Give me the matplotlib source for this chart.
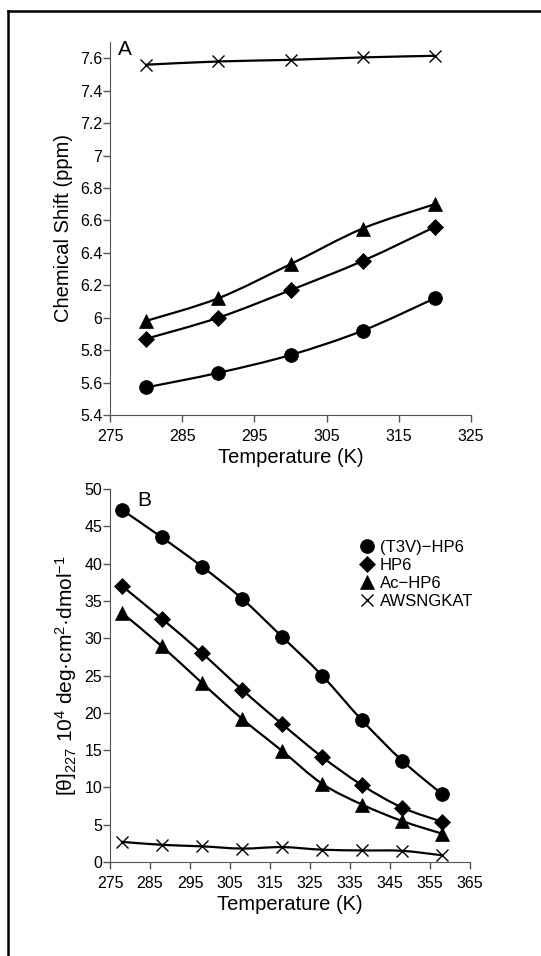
import matplotlib
matplotlib.use('Agg')
import matplotlib.pyplot as plt
from matplotlib.path import Path
from matplotlib.patches import PathPatch
from matplotlib.lines import Line2D
from matplotlib.ticker import FuncFormatter
import numpy as np

plt.rcParams['font.family'] = ['Liberation Sans', 'DejaVu Sans']
plt.rcParams['mathtext.fontset'] = 'custom'
plt.rcParams['mathtext.rm'] = 'Liberation Sans'
plt.rcParams['mathtext.it'] = 'Liberation Sans'

# panel A: chemical shift vs temperature
temp_a = [280, 290, 300, 310, 320]
shift_t3v = [5.57, 5.66, 5.77, 5.92, 6.12]
shift_hp6 = [5.87, 6.00, 6.17, 6.35, 6.56]
shift_ac = [5.98, 6.12, 6.33, 6.55, 6.70]
shift_aws = [7.56, 7.58, 7.59, 7.605, 7.615]

# panel B: molar ellipticity vs temperature
temp_b = [278, 288, 298, 308, 318, 328, 338, 348, 358]
theta_t3v = [47.2, 43.5, 39.6, 35.3, 30.2, 25.0, 19.0, 13.6, 9.1]
theta_hp6 = [37.0, 32.6, 28.0, 23.1, 18.5, 14.1, 10.3, 7.3, 5.4]
theta_ac = [33.4, 28.9, 24.0, 19.2, 14.9, 10.5, 7.7, 5.5, 3.8]
theta_aws = [2.7, 2.3, 2.1, 1.8, 2.0, 1.65, 1.55, 1.5, 0.9]

labels = ['(T3V)\u2212HP6', 'HP6', 'Ac\u2212HP6', 'AWSNGKAT']
markers = ['o', 'D', '^', 'x']
msizes = [10, 8.5, 9.5, 8]


def smooth_line(ax, x, y):
    # Excel-like smoothed line: cubic bezier through the points
    x = np.asarray(x, float)
    y = np.asarray(y, float)
    n = len(x)
    verts = [(x[0], y[0])]
    codes = [Path.MOVETO]
    for i in range(n - 1):
        p0 = np.array([x[max(i - 1, 0)], y[max(i - 1, 0)]])
        p1 = np.array([x[i], y[i]])
        p2 = np.array([x[i + 1], y[i + 1]])
        p3 = np.array([x[min(i + 2, n - 1)], y[min(i + 2, n - 1)]])
        c1 = p1 + (p2 - p0) / 6.0
        c2 = p2 - (p3 - p1) / 6.0
        verts += [tuple(c1), tuple(c2), tuple(p2)]
        codes += [Path.CURVE4] * 3
    ax.add_patch(PathPatch(Path(verts, codes), fill=False, lw=1.6,
                           edgecolor='black', zorder=2))


def style_axes(ax):
    ax.spines['top'].set_visible(False)
    ax.spines['right'].set_visible(False)
    ax.spines['left'].set_color('#555555')
    ax.spines['bottom'].set_color('#555555')
    ax.tick_params(direction='out', length=5, width=1, color='#555555',
                   labelsize=11.5)
    ax.tick_params(axis='x', pad=5)
    ax.tick_params(axis='y', pad=0.5)


fig = plt.figure(figsize=(5.41, 9.56), dpi=100)

# outer frame (top and left edges)
fig.add_artist(Line2D([8 / 541, 1.0], [1 - 11 / 956, 1 - 11 / 956],
                      transform=fig.transFigure, color='black', lw=1.8))
fig.add_artist(Line2D([8 / 541, 8 / 541], [0, 1 - 11 / 956],
                      transform=fig.transFigure, color='black', lw=1.8))

# ---- panel A ----
axA = fig.add_axes([110 / 541, 1 - 415 / 956, 361 / 541, 373 / 956])
for ys, m, ms in zip([shift_t3v, shift_hp6, shift_ac, shift_aws], markers, msizes):
    smooth_line(axA, temp_a, ys)
    axA.plot(temp_a, ys, linestyle='none', marker=m, ms=ms, color='black',
             mew=1.0 if m == 'x' else 0.5, zorder=3, clip_on=False)
axA.set_xlim(275, 325)
axA.set_ylim(5.4, 7.7)
axA.set_xticks(range(275, 326, 10))
axA.set_yticks(np.arange(5.4, 7.61, 0.2))
axA.yaxis.set_major_formatter(FuncFormatter(lambda v, p: f'{round(v, 1):g}'))
axA.set_xlabel('Temperature (K)', fontsize=14.5, labelpad=3)
axA.set_ylabel('Chemical Shift (ppm)', fontsize=14.5, labelpad=5)
axA.text(0.022, 1.005, 'A', transform=axA.transAxes, fontsize=15, va='top')
style_axes(axA)

# ---- panel B ----
axB = fig.add_axes([110 / 541, 1 - 862 / 956, 360 / 541, 373 / 956])
handles = []
for ys, m, ms, lab in zip([theta_t3v, theta_hp6, theta_ac, theta_aws], markers, msizes, labels):
    smooth_line(axB, temp_b, ys)
    h, = axB.plot(temp_b, ys, linestyle='none', marker=m, ms=ms, color='black',
                  mew=1.0 if m == 'x' else 0.5, zorder=3, clip_on=False, label=lab)
    handles.append(h)
axB.set_xlim(275, 365)
axB.set_ylim(0, 50)
axB.set_xticks(range(275, 366, 10))
axB.set_yticks(range(0, 51, 5))
axB.set_xlabel('Temperature (K)', fontsize=14.5, labelpad=3)
axB.set_ylabel('[\u03b8]$_{227}$ 10$^{4}$ deg\u00b7cm$^{2}$\u00b7dmol$^{-1}$',
               fontsize=15, labelpad=4)
axB.text(0.075, 0.995, 'B', transform=axB.transAxes, fontsize=15, va='top')
axB.legend(handles=handles, loc='upper left', bbox_to_anchor=(0.67, 0.885),
           frameon=False, fontsize=12, handlelength=0.9, handletextpad=0.3,
           labelspacing=0.17, borderpad=0, markerscale=1.0)
style_axes(axB)

fig.savefig('out.png', dpi=100)
